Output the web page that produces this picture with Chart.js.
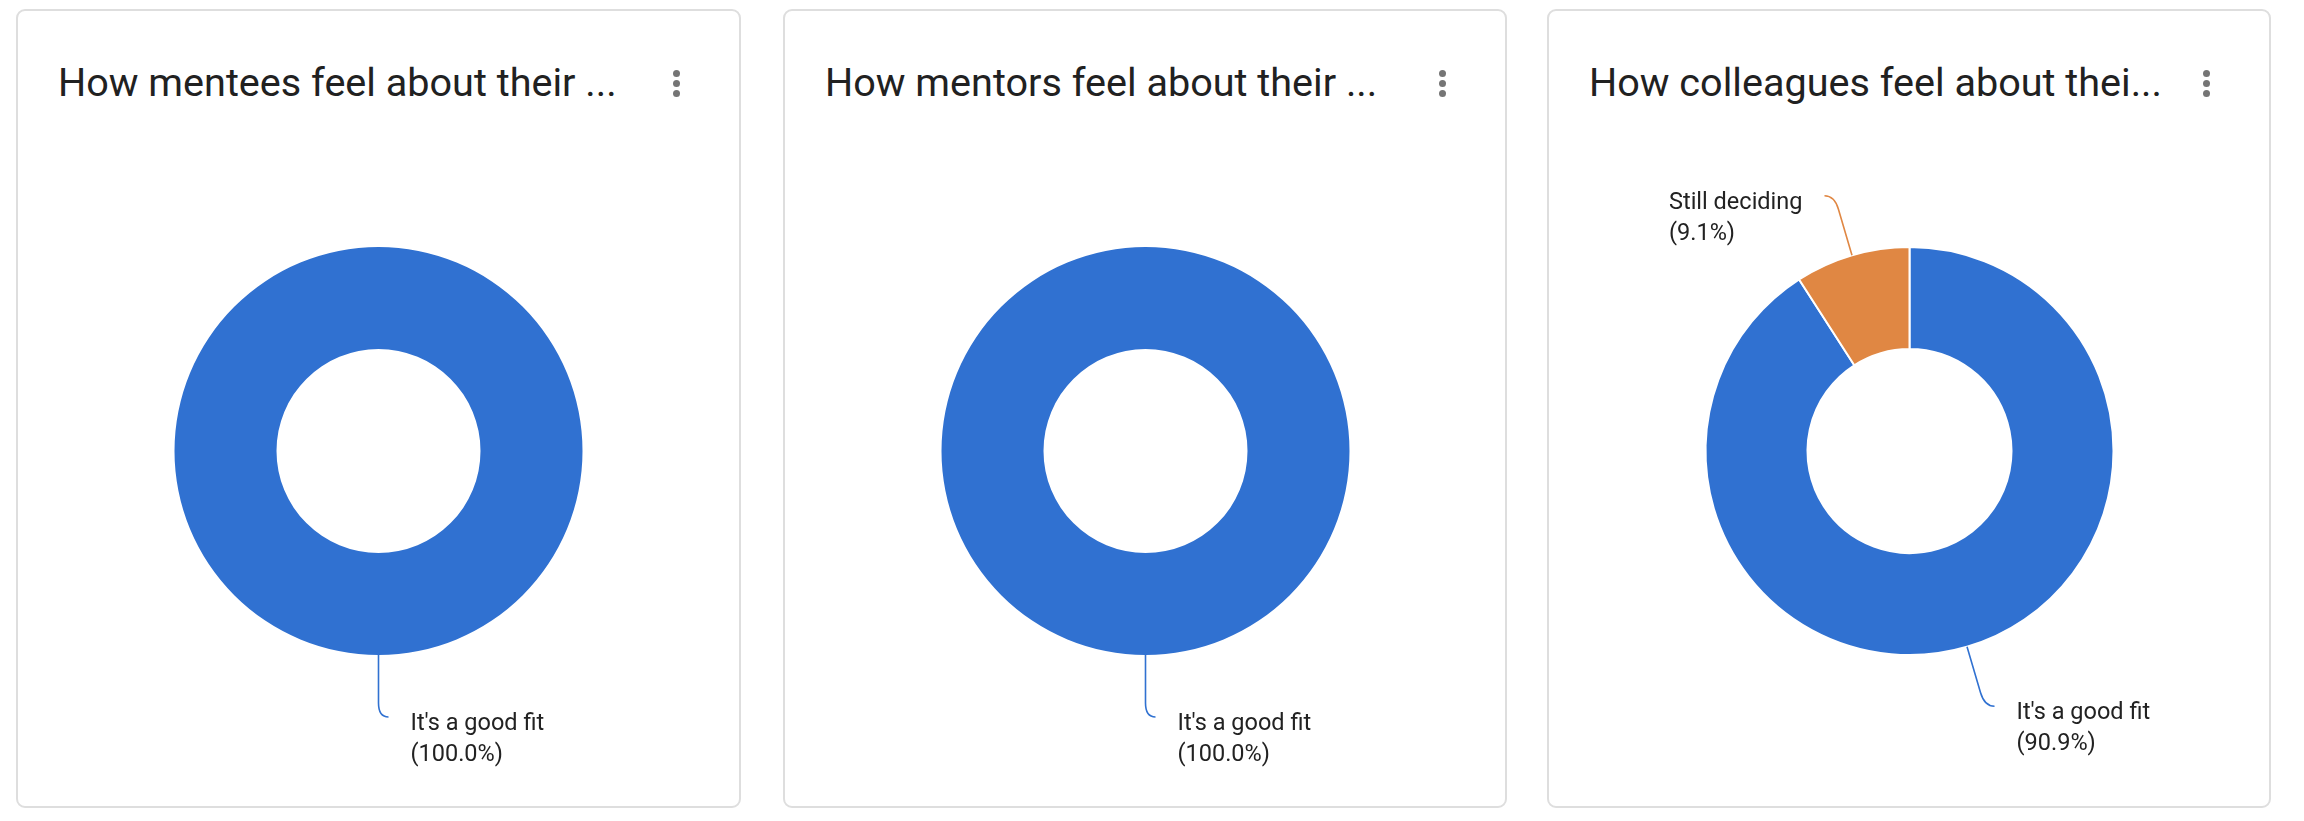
<!DOCTYPE html>
<html>
<head>
<meta charset="utf-8">
<script src="https://cdn.jsdelivr.net/npm/chart.js"></script>
<style>
  html, body { margin: 0; padding: 0; background: #fff; }
  body { width: 2304px; height: 821px; position: relative; overflow: hidden; font-family: Roboto, sans-serif; }
  .card {
    position: absolute; top: 9px; height: 799px;
    box-sizing: border-box; border: 2px solid #dedede; border-radius: 9px; background: #fff;
  }
  .title {
    position: absolute; left: 40px; top: 52px; font-size: 39.6px; line-height: 40px;
    color: #212121; white-space: nowrap;
  }
  .kebab { position: absolute; right: 58px; top: 59px; width: 8px; }
  .kebab span { display: block; width: 7px; height: 7px; border-radius: 50%; background: #757575; margin-bottom: 3px; }
  .plot { position: absolute; left: 0; top: 0; width: 721px; height: 795px; }
</style>
</head>
<body>
<div class="card" id="card0" style="left:16px;width:725px"><div class="title"></div><div class="kebab"><span></span><span></span><span></span></div><div class="plot"><canvas id="chart0"></canvas></div></div>
<div class="card" id="card1" style="left:783px;width:724px"><div class="title"></div><div class="kebab"><span></span><span></span><span></span></div><div class="plot"><canvas id="chart1"></canvas></div></div>
<div class="card" id="card2" style="left:1547px;width:724px"><div class="title"></div><div class="kebab"><span></span><span></span><span></span></div><div class="plot"><canvas id="chart2"></canvas></div></div>
<script>
// chart titles (truncated as shown)
const titles = [
  'How mentees feel about their ...',
  'How mentors feel about their ...',
  'How colleagues feel about thei...'
];

// data per chart
const menteeLabels = ["It's a good fit"];
const menteeValues = [100];
const mentorLabels = ["It's a good fit"];
const mentorValues = [100];
const colleagueLabels = ["It's a good fit", 'Still deciding'];
const colleagueValues = [90.9, 9.1];

const sliceColors = ['#3071d1', '#e08743'];

// draws leader lines + "label (pct%)" next to each slice
const leaderLabels = {
  id: 'leaderLabels',
  afterDatasetsDraw(chart) {
    const ctx = chart.ctx;
    const meta = chart.getDatasetMeta(0);
    const values = chart.data.datasets[0].data;
    const total = values.reduce((a, b) => a + b, 0);
    ctx.save();
    ctx.font = '23.5px Roboto';
    ctx.textBaseline = 'middle';
    meta.data.forEach((arc, i) => {
      const { x, y, startAngle, endAngle, outerRadius } = arc.getProps(['x', 'y', 'startAngle', 'endAngle', 'outerRadius'], true);
      const mid = (startAngle + endAngle) / 2;
      const dx = Math.cos(mid), dy = Math.sin(mid);
      const side = dx >= -1e-6 ? 1 : -1;
      const len = 62;
      const p0x = x + dx * outerRadius, p0y = y + dy * outerRadius;
      const p1x = p0x + dx * len, p1y = p0y + dy * len;
      const ex = p1x + side * 10, ey = p1y;

      ctx.strokeStyle = sliceColors[i];
      ctx.lineWidth = 1.6;
      ctx.beginPath();
      ctx.moveTo(p0x, p0y);
      ctx.lineTo(p0x + dx * (len - 14), p0y + dy * (len - 14));
      ctx.quadraticCurveTo(p1x, p1y, ex, ey);
      ctx.stroke();

      const lines = [chart.data.labels[i], '(' + (values[i] / total * 100).toFixed(1) + '%)'];
      const w = Math.max(...lines.map(t => ctx.measureText(t).width));
      const tx = side > 0 ? ex + 22 : ex - 22 - w;
      ctx.fillStyle = '#222222';
      ctx.textAlign = 'left';
      lines.forEach((t, k) => ctx.fillText(t, tx, ey + 7 + k * 31));
    });
    ctx.restore();
  }
};

const makeDonut = (idx, labels, values) => {
  document.querySelector('#card' + idx + ' .title').textContent = titles[idx];
  const bw = values.length > 1 ? 2 : 0;
  const plotW = 721, plotH = 795, cy = 440;
  const size = 408 + bw;
  const side = (plotW - size) / 2;
  new Chart(document.getElementById('chart' + idx), {
    type: 'doughnut',
    data: {
      labels: labels,
      datasets: [{
        data: values,
        backgroundColor: sliceColors.slice(0, values.length),
        borderColor: '#ffffff',
        borderWidth: bw,
        hoverOffset: 0
      }]
    },
    options: {
      responsive: true,
      maintainAspectRatio: false,
      animation: false,
      cutout: '50%',
      layout: { padding: { top: cy - size / 2, bottom: plotH - cy - size / 2, left: side, right: side } },
      plugins: { legend: { display: false }, tooltip: { enabled: false } }
    },
    plugins: [leaderLabels]
  });
};

makeDonut(0, menteeLabels, menteeValues);
makeDonut(1, mentorLabels, mentorValues);
makeDonut(2, colleagueLabels, colleagueValues);
</script>
</body>
</html>
